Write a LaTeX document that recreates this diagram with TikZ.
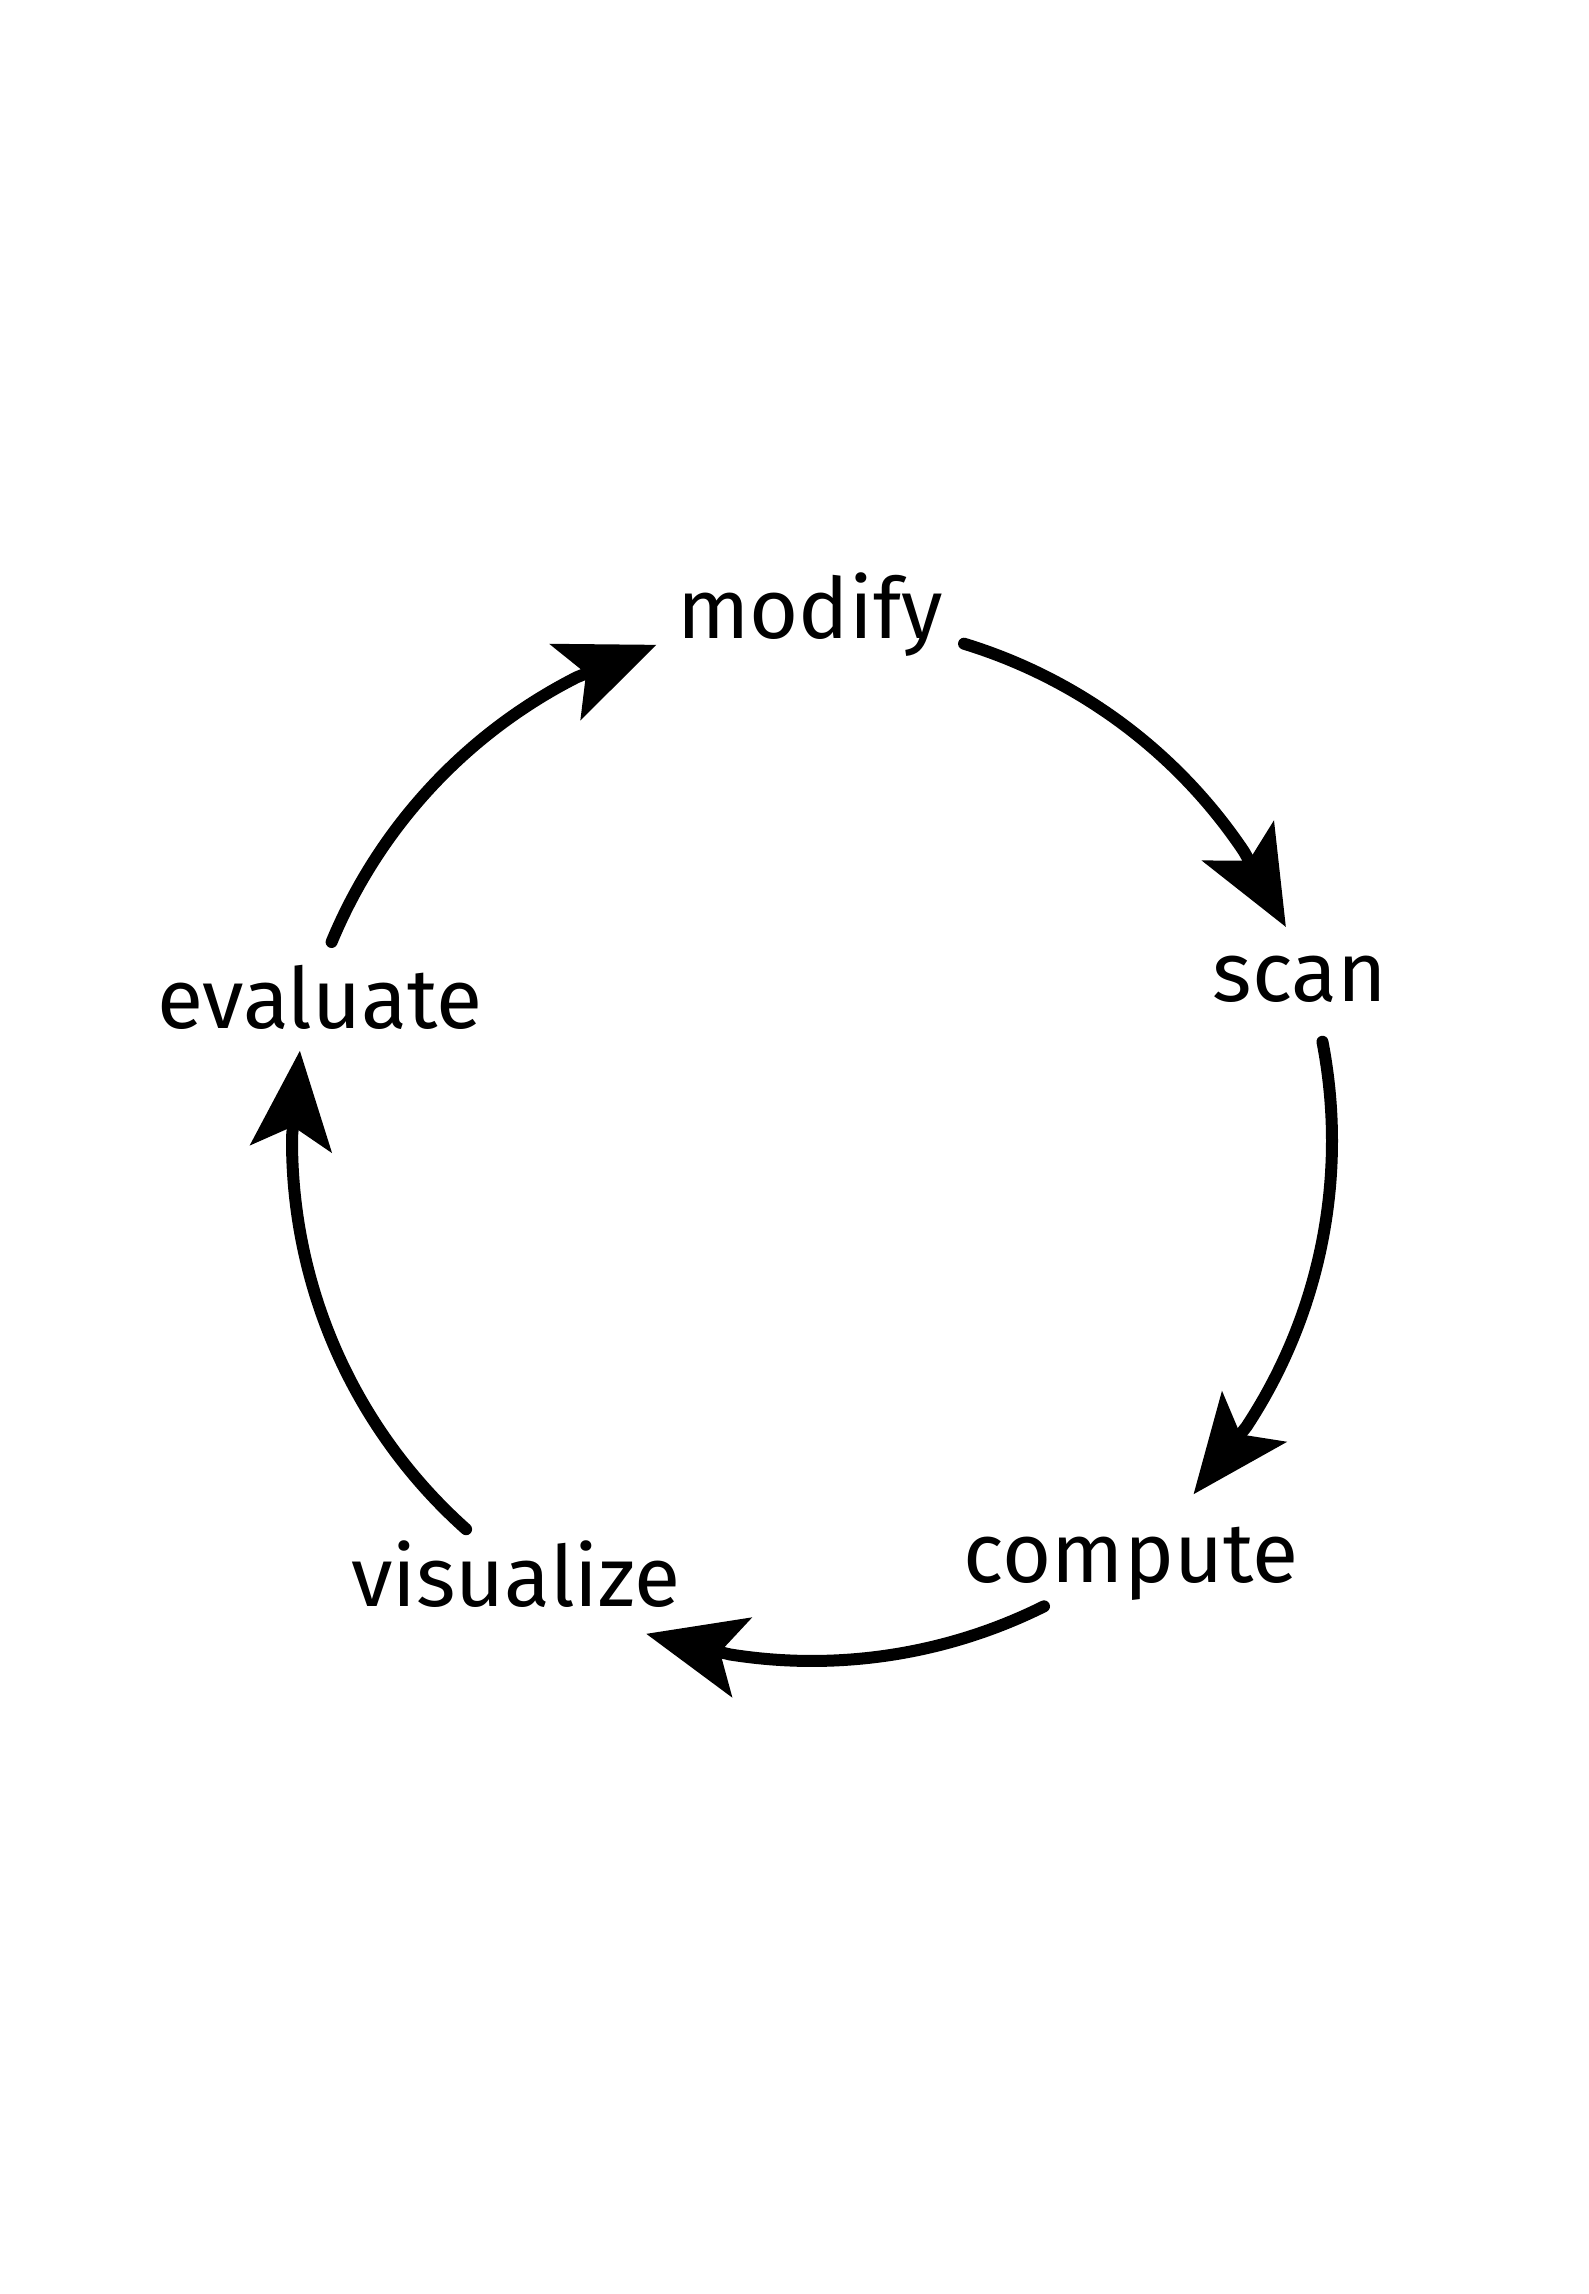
\documentclass[tikz,border=0pt]{standalone}
\usepackage{fontspec}
\setmainfont{Fira Sans}
\usetikzlibrary{arrows.meta,calc}
\begin{document}
\begin{tikzpicture}[line width=0.12cm, line cap=round,
	lbl/.style={anchor=base, inner sep=0pt, font=\fontsize{24}{29}\selectfont},
	cyc/.style={-{Stealth[length=0.98cm, width=0.81cm, inset=0.22cm]}}]
	\useasboundingbox (0,0) rectangle (15.89,22.94);
	\node (modify)		at ( 8.10, 16.55)	[lbl]	{modify};
	\node (scan)		at (13.00, 12.92)	[lbl]	{scan};
	\node (compute)		at (11.31,  7.11)	[lbl]	{compute};
	\node (visualize)	at ( 5.16,  6.87)	[lbl]	{visualize};
	\node (evaluate)	at ( 3.20, 12.65)	[lbl]	{evaluate};
	\coordinate (M) at (8.12, 11.53);
	% arc starts and arrow tips
	\coordinate (ms) at ($(M)+(73:5.2)$);
	\coordinate (ms') at ($(M)+(24.3:5.2)$);
	\coordinate (sc) at ($(M)+(11:5.2)$);
	\coordinate (sc') at ($(M)+(-42.8:5.2)$);
	\coordinate (cv) at ($(M)+(-63.5:5.2)$);
	\coordinate (cv') at ($(M)+(-108.6:5.2)$);
	\coordinate (ve) at ($(M)+(-131.7:5.2)$);
	\coordinate (ve') at ($(M)+(170:5.2)$);
	\coordinate (em) at ($(M)+(157.5:5.2)$);
	\coordinate (em') at ($(M)+(107.4:5.2)$);
	\draw[cyc] (ms) arc[start angle=73, end angle=33.8, radius=5.2] -- (ms');
	\draw[cyc] (sc) arc[start angle=11, end angle=-33.3, radius=5.2] -- (sc');
	\draw[cyc] (cv) arc[start angle=-63.5, end angle=-99.1, radius=5.2] -- (cv');
	\draw[cyc] (ve) arc[start angle=-131.7, end angle=-180.5, radius=5.2] -- (ve');
	\draw[cyc] (em) arc[start angle=157.5, end angle=116.9, radius=5.2] -- (em');
\end{tikzpicture}
\end{document}
